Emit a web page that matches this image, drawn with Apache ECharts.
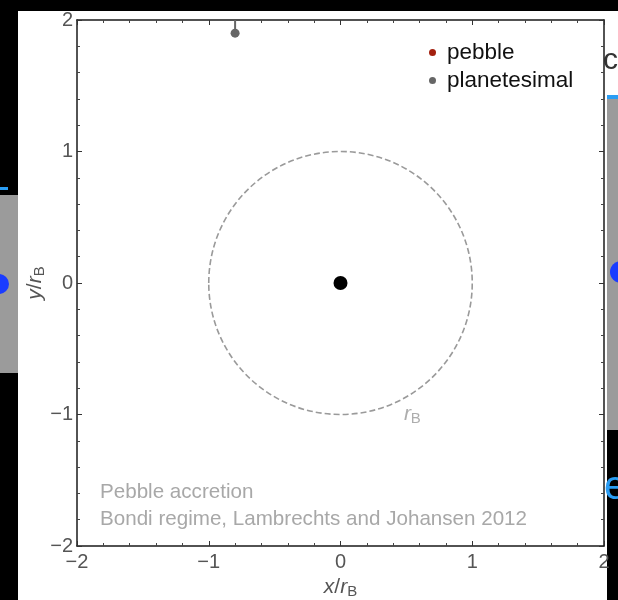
<!DOCTYPE html>
<html><head><meta charset="utf-8">
<script src="https://cdn.jsdelivr.net/npm/echarts@6/dist/echarts.min.js"></script>
<style>html,body{margin:0;padding:0;background:#000}#c{width:618px;height:600px}</style>
</head><body><div id="c"></div>
<script>
// ---- data ----
const xRange = [-2, 2];
const yRange = [-2, 2];
const tickStep = 1;
const legendNames = ['pebble', 'planetesimal'];
const pebbleData = [];
const planetesimalPos = [[-0.8, 1.9]];
const planetesimalTrail = [[-0.8, 2.0], [-0.8, 1.9]];
const coreData = [[0, 0]];
const bondiCircle = [[0, 0, 1]]; // centre x, centre y, radius (in r_B)
const rBLabelPos = [[0.5, -1.0]];
const noteLines = ['Pebble accretion', 'Bondi regime, Lambrechts and Johansen 2012'];

const FONT = '"Liberation Sans", Arial, sans-serif';
const minus = v => String(v).replace('-', '\u2212');

const chart = echarts.init(document.getElementById('c'));

function axisCommon(show) {
  return {
    min: xRange[0], max: xRange[1], interval: tickStep,
    axisLine: { show: true, onZero: false, lineStyle: { color: '#1a1a1a', width: 1.5 } },
    axisTick: { show: true, inside: true, length: 5, lineStyle: { color: '#333', width: 1 } },
    minorTick: { show: true, splitNumber: 5, length: 3, lineStyle: { color: '#444', width: 1 } },
    splitLine: { show: false },
    axisLabel: { show: show, color: '#555', fontSize: 20, fontFamily: FONT, formatter: minus }
  };
}

const nameRich = {
  it: { fontStyle: 'italic', fontSize: 21, color: '#555', fontFamily: FONT },
  n: { fontSize: 21, color: '#555', fontFamily: FONT },
  sub: { fontSize: 15, color: '#555', fontFamily: FONT, padding: [9, 0, 0, 0] }
};

const option = {
  backgroundColor: '#000',
  animation: false,
  grid: { left: 77, top: 20, right: 14, bottom: 54, containLabel: false, outerBoundsMode: 'none' },
  graphic: [
    { type: 'rect', z: -10, silent: true, shape: { x: 18, y: 11, width: 589, height: 589 }, style: { fill: '#fff' } },
    { type: 'rect', z: -10, silent: true, shape: { x: 607, y: 11, width: 11, height: 84 }, style: { fill: '#fff' } },
    { type: 'text', z: -9, silent: true, style: { x: 603, y: 46, text: 'c', font: '30px ' + FONT, fill: '#333' } },
    { type: 'rect', z: -10, silent: true, shape: { x: 607, y: 95, width: 11, height: 4 }, style: { fill: '#2a9df4' } },
    { type: 'rect', z: -10, silent: true, shape: { x: 607, y: 99, width: 11, height: 331 }, style: { fill: '#9b9b9b' } },
    { type: 'circle', z: -9, silent: true, shape: { cx: 621, cy: 272, r: 11 }, style: { fill: '#1a3cff' } },
    { type: 'text', z: -9, silent: true, style: { x: 604, y: 468, text: 'e', font: '40px ' + FONT, fill: '#2a9df4' } },
    { type: 'rect', z: -10, silent: true, shape: { x: 0, y: 195, width: 18, height: 178 }, style: { fill: '#9b9b9b' } },
    { type: 'rect', z: -10, silent: true, shape: { x: 0, y: 187, width: 8, height: 3 }, style: { fill: '#2a9df4' } },
    { type: 'circle', z: -9, silent: true, shape: { cx: -1, cy: 284, r: 10 }, style: { fill: '#1a3cff' } },
    { type: 'text', silent: true, left: 100, top: 482, style: { text: noteLines[0], font: '20.6px ' + FONT, fill: '#a8a8a8' } },
    { type: 'text', silent: true, left: 100, top: 509, style: { text: noteLines[1], font: '20.6px ' + FONT, fill: '#a8a8a8' } }
  ],
  legend: {
    data: legendNames, orient: 'vertical', left: 424, top: 36, icon: 'circle',
    itemWidth: 7, itemHeight: 7, itemGap: 5,
    textStyle: { color: '#111', fontSize: 22.5, fontFamily: FONT, padding: [0, 0, 0, 6] }
  },
  xAxis: [
    Object.assign(axisCommon(true), {
      type: 'value', position: 'bottom',
      axisLabel: { show: true, color: '#555', fontSize: 20, fontFamily: FONT, formatter: minus, margin: 6 },
      name: '{it|x}{n|/}{it|r}{sub|B}', nameLocation: 'middle', nameGap: 27,
      nameTextStyle: { rich: nameRich }
    }),
    Object.assign(axisCommon(false), { type: 'value', position: 'top' })
  ],
  yAxis: [
    Object.assign(axisCommon(true), {
      type: 'value', position: 'left', min: yRange[0], max: yRange[1],
      axisLabel: { show: true, color: '#555', fontSize: 20, fontFamily: FONT, formatter: minus, margin: 4 },
      name: '{it|y}{n|/}{it|r}{sub|B}', nameLocation: 'middle', nameGap: 30, nameRotate: 90,
      nameMoveOverlap: false,
      nameTextStyle: { rich: nameRich }
    }),
    Object.assign(axisCommon(false), { type: 'value', position: 'right', min: yRange[0], max: yRange[1] })
  ],
  series: [
    {
      type: 'custom', name: 'bondi', silent: true, data: bondiCircle, z: 1,
      renderItem: function (params, api) {
        const c = api.coord([api.value(0), api.value(1)]);
        const s = api.size([api.value(2), api.value(2)]);
        return { type: 'ellipse', shape: { cx: c[0], cy: c[1], rx: s[0], ry: s[1] },
          style: { fill: null, stroke: '#9a9a9a', lineWidth: 1.6, lineDash: [6, 3] } };
      }
    },
    {
      type: 'scatter', name: 'rB', silent: true, data: rBLabelPos, symbolSize: 0,
      label: { show: true, position: 'inside', offset: [6, 0], formatter: '{it|r}{sub|B}',
        rich: { it: { fontStyle: 'italic', fontSize: 21, color: '#999', fontFamily: FONT },
                sub: { fontSize: 15, color: '#999', fontFamily: FONT, padding: [9, 0, 0, 0] } } }
    },
    { type: 'scatter', name: 'pebble', data: pebbleData, symbolSize: 7, itemStyle: { color: '#a3200f', opacity: 1 } },
    { type: 'line', name: 'trail', silent: true, data: planetesimalTrail, symbol: 'none',
      lineStyle: { color: '#666', width: 2 } },
    { type: 'scatter', name: 'planetesimal', data: planetesimalPos, symbolSize: 9, itemStyle: { color: '#666', opacity: 1 } },
    { type: 'scatter', name: 'core', silent: true, data: coreData, symbolSize: 14, itemStyle: { color: '#000', opacity: 1 } }
  ]
};
chart.setOption(option);
</script>
</body></html>
